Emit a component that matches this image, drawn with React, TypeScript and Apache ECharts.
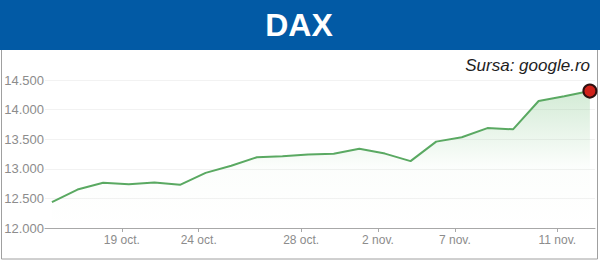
import React, { useEffect, useRef } from "react";
import * as echarts from "echarts";

const dates = [
  "14 oct.", "17 oct.", "18 oct.", "19 oct.", "20 oct.", "21 oct.",
  "24 oct.", "25 oct.", "26 oct.", "27 oct.", "28 oct.", "31 oct.",
  "1 nov.", "2 nov.", "3 nov.", "4 nov.", "7 nov.", "8 nov.",
  "9 nov.", "10 nov.", "11 nov.", "14 nov.",
];
const values = [
  12438, 12649, 12765, 12741, 12767, 12730,
  12931, 13052, 13195, 13211, 13243, 13253,
  13338, 13257, 13130, 13459, 13533, 13688,
  13666, 14146, 14224, 14313,
];
const tickLabels = ["19 oct.", "24 oct.", "28 oct.", "2 nov.", "7 nov.", "11 nov."];
const yTicks = [12000, 12500, 13000, 13500, 14000, 14500];

// day ticks sit at midnight, a little before the closing price point
const tickShift = 0.27;

function fmtNum(v: number): string {
  const th = Math.floor(v / 1000);
  const rest = String(Math.round(v % 1000)).padStart(3, "0");
  return th + "." + rest;
}

export default function App() {
  const ref = useRef<HTMLDivElement>(null);
  useEffect(() => {
    if (!ref.current) return;
    const chart = echarts.init(ref.current, undefined, { renderer: "svg" });
    const tickPos = tickLabels.map((l) => dates.indexOf(l) - tickShift);
    const lineData = values.map((v, i) => [i, v]);
    const last = lineData[lineData.length - 1];
    chart.setOption({
      animation: false,
      backgroundColor: "#ffffff",
      textStyle: { fontFamily: "Liberation Sans, Arial, sans-serif" },
      grid: { left: 45, right: 5, top: 80, bottom: 34, containLabel: false },
      xAxis: {
        type: "value",
        min: -tickShift,
        max: values.length - 1 + 0.2,
        splitLine: { show: false },
        axisLine: { show: true, lineStyle: { color: "#a8a8a8", width: 1 } },
        axisTick: {
          show: true,
          customValues: tickPos,
          length: 4,
          lineStyle: { color: "#a8a8a8" },
        },
        axisLabel: {
          customValues: tickPos,
          color: "#8c8c8c",
          fontSize: 12,
          margin: 6,
          formatter: (v: number) => {
            const idx = tickPos.findIndex((p) => Math.abs(p - v) < 0.01);
            return idx >= 0 ? tickLabels[idx] : "";
          },
        },
      },
      yAxis: {
        type: "value",
        min: yTicks[0],
        max: yTicks[yTicks.length - 1],
        interval: 500,
        axisLine: { show: false },
        axisTick: { show: false },
        splitLine: { show: true, lineStyle: { color: "#f2f2f2", width: 1 } },
        axisLabel: {
          color: "#8c8c8c",
          fontSize: 13,
          margin: 1,
          formatter: (v: number) => fmtNum(v),
        },
      },
      graphic: [
        {
          type: "rect",
          shape: { x: 1.5, y: 40, width: 596, height: 219 },
          style: { fill: "none", stroke: "#a0a0a0", lineWidth: 1 },
          silent: true,
          z: 0,
        },
        {
          type: "rect",
          shape: { x: 0, y: 0, width: 600, height: 50 },
          style: { fill: "#025aa5" },
          z: 10,
        },
        {
          type: "text",
          x: 299,
          y: 25,
          style: {
            text: "DAX",
            fill: "#ffffff",
            font: "bold 32px Liberation Sans, Arial, sans-serif",
            textAlign: "center",
            textVerticalAlign: "middle",
          },
          z: 11,
        },
        {
          type: "text",
          x: 590,
          y: 65,
          style: {
            text: "Sursa: google.ro",
            fill: "#1e1e1e",
            font: "italic 17px Liberation Sans, Arial, sans-serif",
            textAlign: "right",
            textVerticalAlign: "middle",
          },
          z: 11,
        },
      ],
      series: [
        {
          type: "line",
          data: lineData,
          showSymbol: false,
          symbol: "none",
          lineStyle: { color: "#5aa962", width: 2 },
          areaStyle: {
            color: new echarts.graphic.LinearGradient(0, 0, 0, 1, [
              { offset: 0, color: "rgba(90,180,100,0.38)" },
              { offset: 0.55, color: "rgba(90,180,100,0.03)" },
              { offset: 1, color: "rgba(90,180,100,0)" },
            ]),
          },
          z: 2,
        },
        {
          type: "scatter",
          data: [last],
          symbol: "circle",
          symbolSize: 13,
          itemStyle: {
            color: "#d0221a",
            borderColor: "#2e1010",
            borderWidth: 2,
            opacity: 1,
          },
          z: 5,
        },
      ],
    });
    return () => chart.dispose();
  }, []);
  return (
    <div
      ref={ref}
      style={{ position: "fixed", left: 0, top: 0, width: 600, height: 262 }}
    />
  );
}
